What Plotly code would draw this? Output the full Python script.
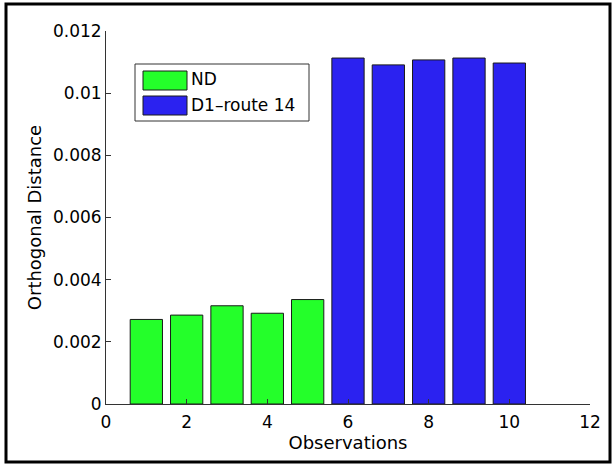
import plotly.graph_objects as go

# Observation indices and orthogonal distances for the two groups
obs_nd = [1, 2, 3, 4, 5]
dist_nd = [0.00272, 0.00286, 0.00316, 0.00292, 0.00336]
obs_d1 = [6, 7, 8, 9, 10]
dist_d1 = [0.01113, 0.01091, 0.01107, 0.01113, 0.01097]

series_names = ["ND", "D1\u2013route 14"]
series_colors = ["#24FF2A", "#2B22F0"]

x_tickvals = [0, 2, 4, 6, 8, 10, 12]
y_tickvals = [0, 0.002, 0.004, 0.006, 0.008, 0.010, 0.012]
y_ticktext = ["0", "0.002", "0.004", "0.006", "0.008", "0.01", "0.012"]

W, H = 614, 464
ML, MR, MT, MB = 106, 24, 31, 60
PW, PH = W - ML - MR, H - MT - MB

FONT = "DejaVu Sans, Arial, sans-serif"


def px_x(p):
    return (p - ML) / PW


def px_y(p):
    return (H - MB - p) / PH


fig = go.Figure()
for xs, ys, name, col in [(obs_nd, dist_nd, series_names[0], series_colors[0]),
                          (obs_d1, dist_d1, series_names[1], series_colors[1])]:
    fig.add_trace(go.Bar(
        x=xs, y=ys, name=name, width=0.8,
        marker=dict(color=col, line=dict(color="#1a1a1a", width=1)),
        showlegend=False,
    ))

shapes = []
annotations = []

# hand-drawn legend box with wide colour swatches
shapes.append(dict(type="rect", xref="paper", yref="paper",
                   x0=px_x(135), x1=px_x(309), y0=px_y(121), y1=px_y(64),
                   line=dict(color="#333", width=1), fillcolor="white", layer="above"))
rows = [(71, 90, 79), (96, 115, 105)]
for (top, bot, mid), name, col in zip(rows, series_names, series_colors):
    shapes.append(dict(type="rect", xref="paper", yref="paper",
                       x0=px_x(143), x1=px_x(187), y0=px_y(bot), y1=px_y(top),
                       line=dict(color="#1a1a1a", width=1), fillcolor=col, layer="above"))
    annotations.append(dict(xref="paper", yref="paper", x=px_x(189), y=px_y(mid),
                            text=name, showarrow=False, xanchor="left", yanchor="middle",
                            font=dict(family=FONT, size=17, color="black")))

# black frame around the whole figure
shapes.append(dict(type="rect", xref="paper", yref="paper",
                   x0=px_x(6), x1=px_x(610), y0=px_y(462), y1=px_y(4),
                   line=dict(color="black", width=3), fillcolor="rgba(0,0,0,0)"))

fig.update_layout(
    width=W, height=H,
    margin=dict(l=ML, r=MR, t=MT, b=MB),
    paper_bgcolor="white", plot_bgcolor="white",
    bargap=0.2,
    shapes=shapes, annotations=annotations,
    font=dict(family=FONT, size=17, color="black"),
    xaxis=dict(range=[0, 12], tickvals=x_tickvals, ticks="inside", ticklen=5,
               tickcolor="#333", showline=True, linecolor="#333", linewidth=1,
               showgrid=False, zeroline=False, mirror=False, ticklabelstandoff=3,
               title=dict(text="Observations", font=dict(size=18), standoff=1),
               tickfont=dict(size=17)),
    yaxis=dict(range=[0, 0.012], tickvals=y_tickvals, ticktext=y_ticktext,
               ticks="inside", ticklen=5, tickcolor="#333", showline=True,
               linecolor="#333", linewidth=1, showgrid=False, zeroline=False,
               title=dict(text="Orthogonal Distance", font=dict(size=18), standoff=6),
               tickfont=dict(size=17)),
)

fig.write_html("out.html")
